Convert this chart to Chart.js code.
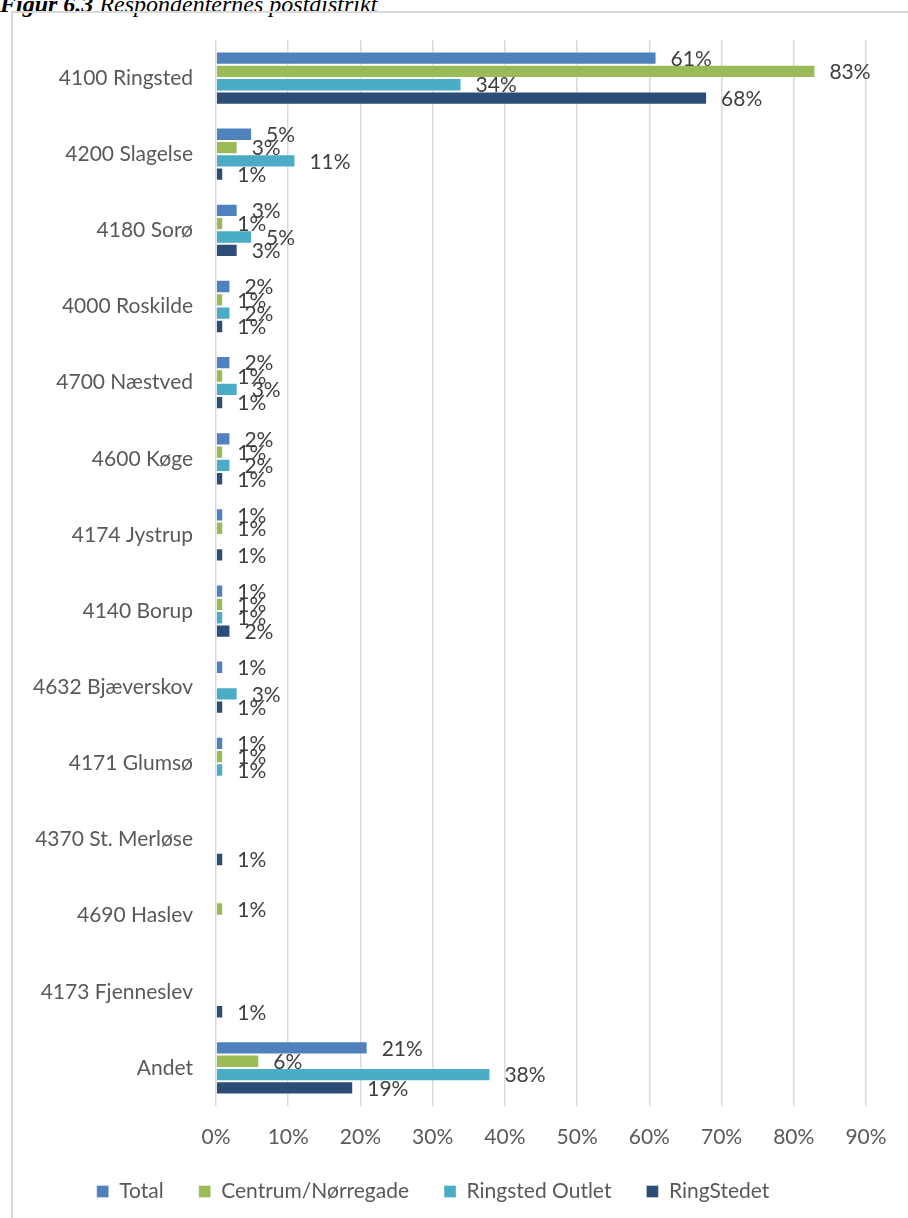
<!DOCTYPE html>
<html>
<head>
<meta charset="utf-8">
<script src="https://cdn.jsdelivr.net/npm/chart.js@4"></script>
<style>
    html, body { margin: 0; padding: 0; background: #fff; overflow: hidden; }
    body { width: 908px; height: 1218px; position: relative; }
    #title {
        position: absolute; left: 0; top: -9px;
        font-family: "Liberation Serif", serif; font-style: italic; font-size: 24px; color: #000;
        white-space: nowrap;
    }
    #frame {
        position: absolute; left: 11px; top: 11px; width: 920px; height: 1230px;
        border: 2px solid #d9d9d9; box-sizing: border-box;
    }
    #wrap { position: absolute; left: 0; top: 0; width: 908px; height: 1218px; }
</style>
</head>
<body>
<div id="title"><b>Figur 6.3</b> Respondenternes postdistrikt</div>
<div id="frame"></div>
<div id="wrap"><canvas id="postChart"></canvas></div>
<script>
const categories = [
    "4100 Ringsted", "4200 Slagelse", "4180 Sorø", "4000 Roskilde", "4700 Næstved",
    "4600 Køge", "4174 Jystrup", "4140 Borup", "4632 Bjæverskov", "4171 Glumsø",
    "4370 St. Merløse", "4690 Haslev", "4173 Fjenneslev", "Andet"
];
const seriesNames = ["Total", "Centrum/Nørregade", "Ringsted Outlet", "RingStedet"];
const totalValues    = [61, 5, 3, 2, 2, 2, 1, 1, 1, 1, null, null, null, 21];
const centrumValues  = [83, 3, 1, 1, 1, 1, 1, 1, null, 1, null, 1, null, 6];
const outletValues   = [34, 11, 5, 2, 3, 2, null, 1, 3, 1, null, null, null, 38];
const ringstedValues = [68, 1, 3, 1, 1, 1, 1, 2, 1, null, 1, null, 1, 19];
const xTicks = [0, 10, 20, 30, 40, 50, 60, 70, 80, 90];

const colors = ["#4f81bd", "#9bbb59", "#4bacc6", "#2c4d75"];
const FONT = "Lato, 'Open Sans', sans-serif";

// labels to the right of each bar
const barLabels = {
    id: "barLabels",
    afterDatasetsDraw(chart) {
        const ctx = chart.ctx;
        ctx.save();
        ctx.font = "21px " + FONT;
        ctx.fillStyle = "#404040";
        ctx.textBaseline = "middle";
        ctx.textAlign = "left";
        chart.data.datasets.forEach((ds, i) => {
            chart.getDatasetMeta(i).data.forEach((bar, j) => {
                const v = ds.data[j];
                if (v === null) return;
                ctx.fillText(v + "%", bar.x + 14, bar.y + 1);
            });
        });
        ctx.restore();
    }
};

const allSeries = [totalValues, centrumValues, outletValues, ringstedValues];

new Chart(document.getElementById("postChart"), {
    type: "bar",
    data: {
        labels: categories,
        datasets: allSeries.map((vals, i) => ({
            label: seriesNames[i],
            data: vals,
            backgroundColor: colors[i],
            borderColor: "rgba(255,255,255,0.35)",
            borderWidth: 1,
            categoryPercentage: 0.7,
            barPercentage: 1.0
        }))
    },
    options: {
        indexAxis: "y",
        responsive: true,
        maintainAspectRatio: false,
        animation: false,
        layout: { padding: { top: 40, right: 42, bottom: 6, left: 0 } },
        scales: {
            x: {
                min: 0,
                max: 90,
                afterBuildTicks: scale => { scale.ticks = xTicks.map(v => ({ value: v })); },
                afterFit: scale => { scale.height = 40; },
                grid: { color: "#d9d9d9", lineWidth: 1.5, drawTicks: false },
                border: { display: false },
                ticks: {
                    padding: 19,
                    color: "#595959",
                    font: { family: FONT, size: 21 },
                    callback: v => v + "%"
                }
            },
            y: {
                grid: { display: false, drawTicks: false },
                border: { display: false },
                afterFit: scale => { scale.width = 216; },
                ticks: {
                    padding: 23,
                    color: "#595959",
                    font: { family: FONT, size: 21 }
                }
            }
        },
        plugins: {
            legend: {
                position: "bottom",
                labels: {
                    boxWidth: 12,
                    boxHeight: 12,
                    padding: 35,
                    color: "#595959",
                    font: { family: FONT, size: 21 }
                }
            },
            tooltip: { enabled: false }
        }
    },
    plugins: [barLabels]
});
</script>
</body>
</html>
